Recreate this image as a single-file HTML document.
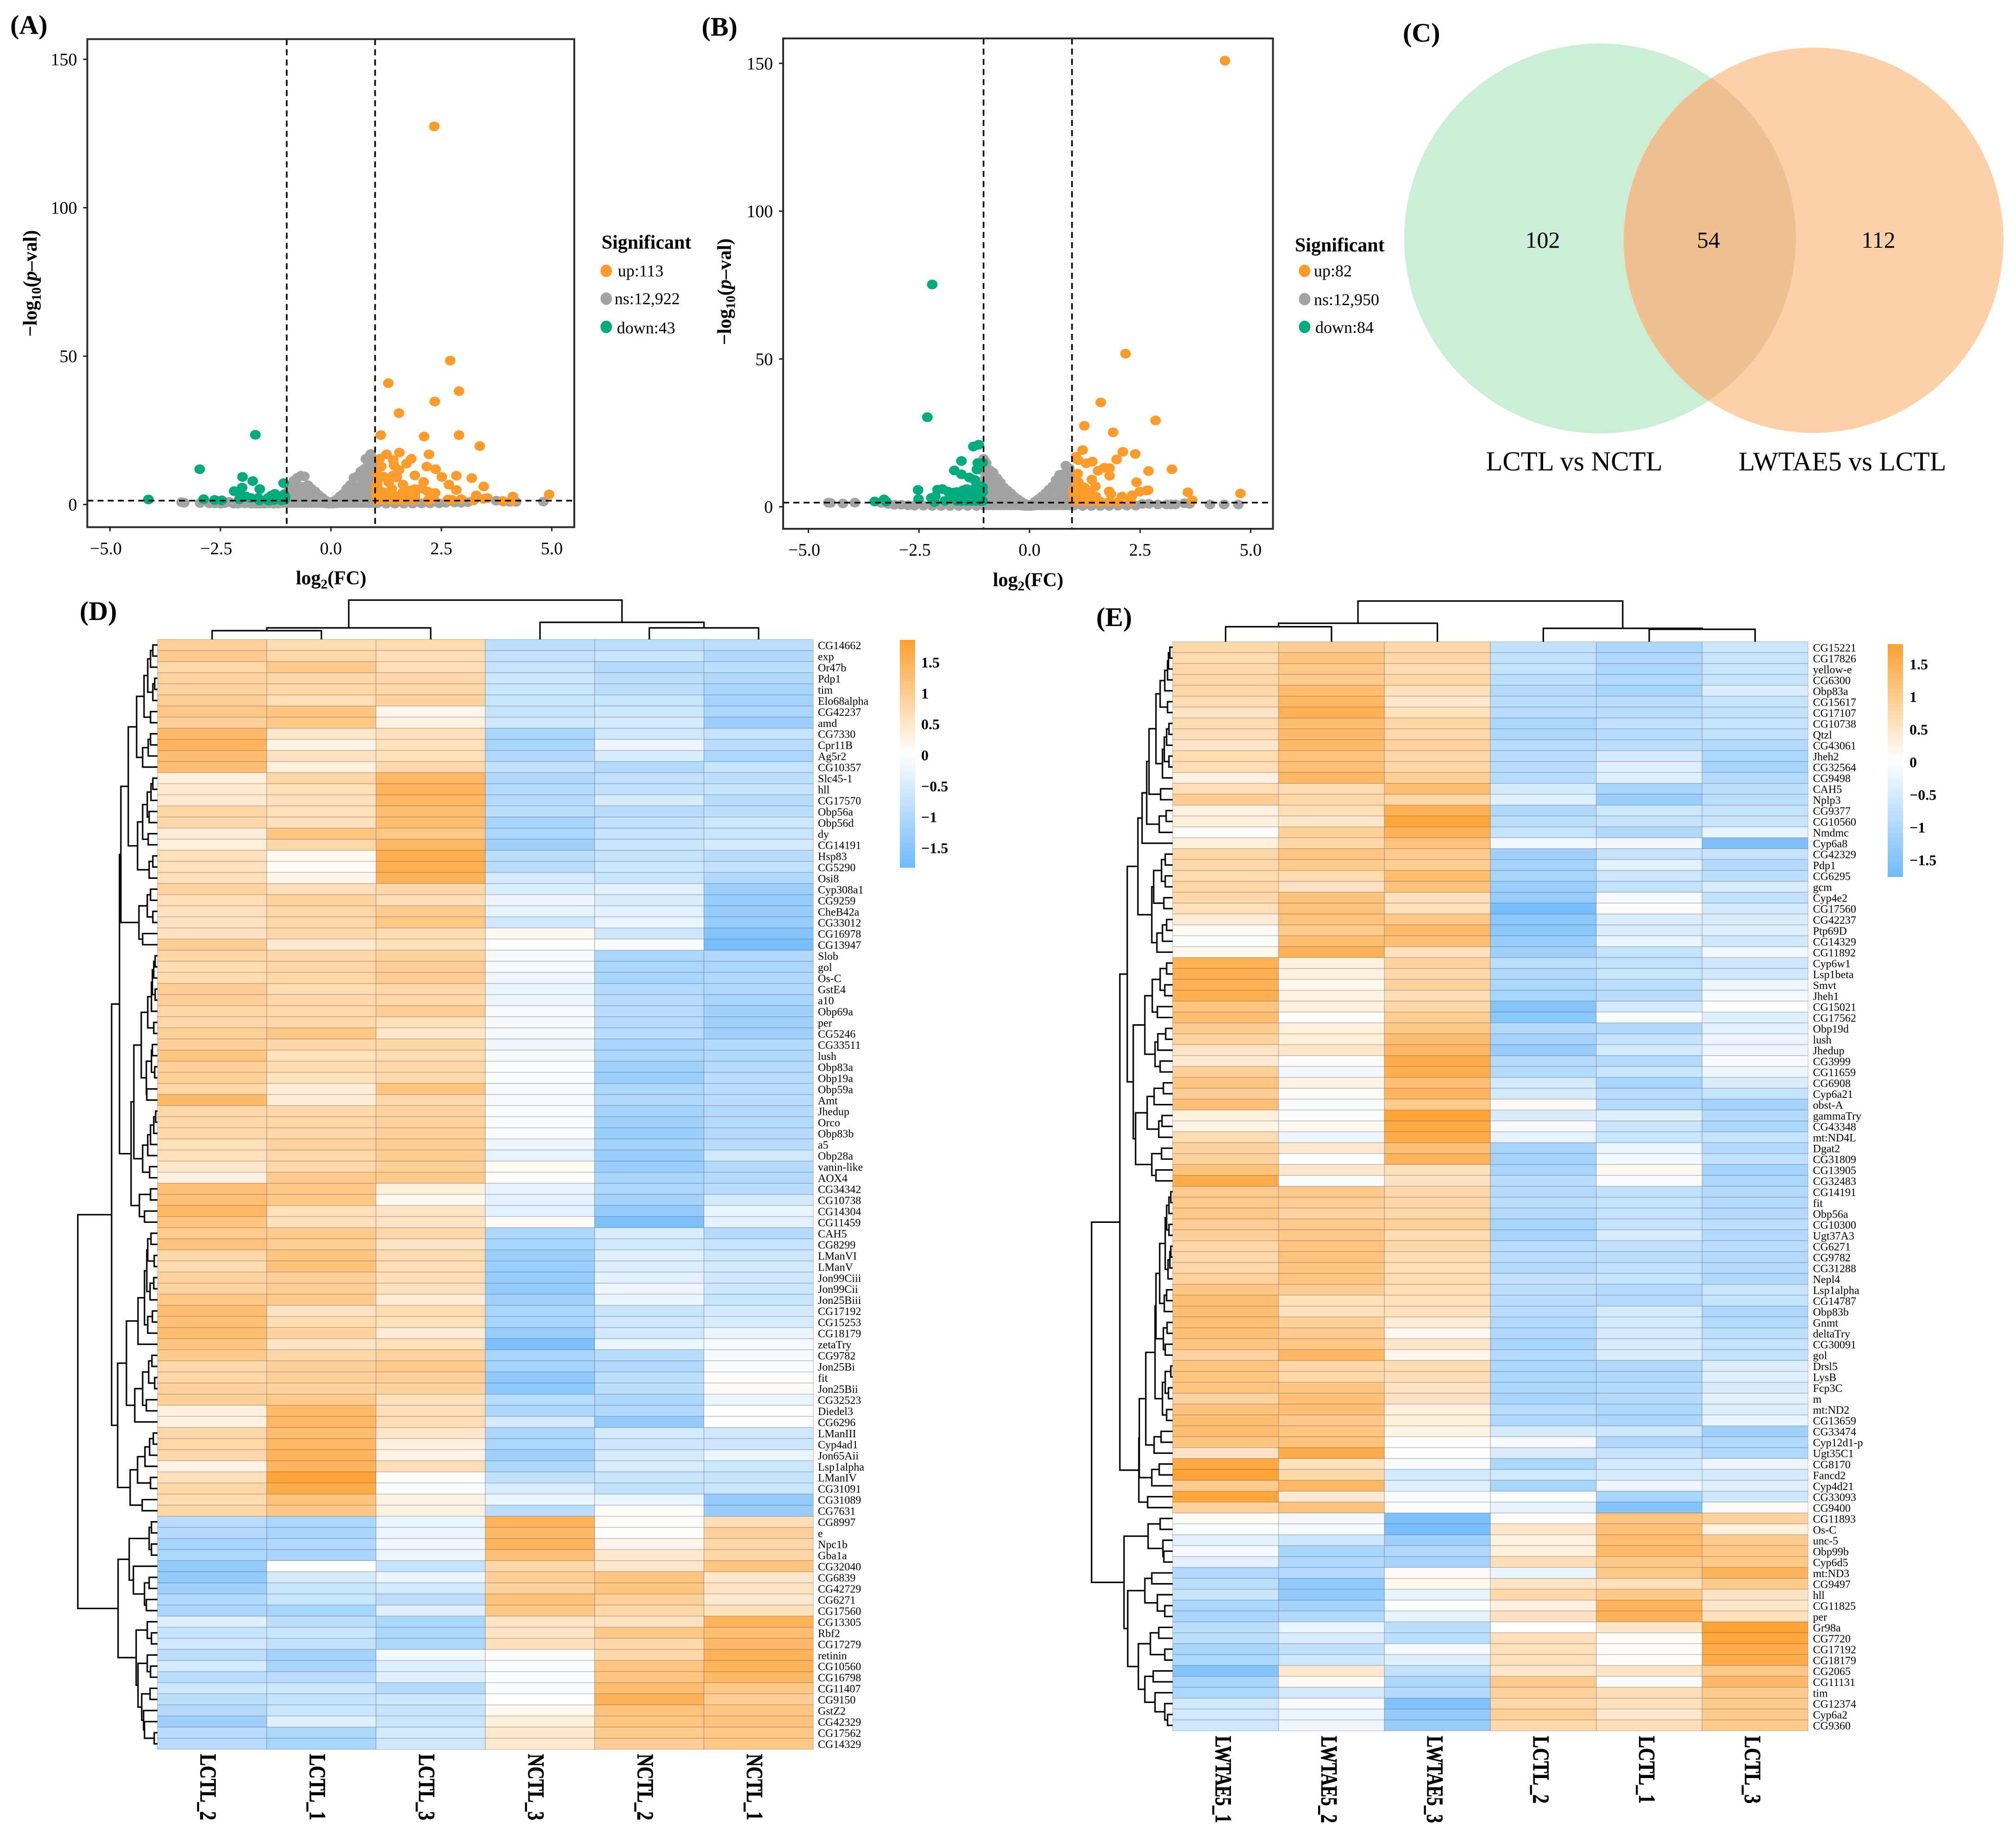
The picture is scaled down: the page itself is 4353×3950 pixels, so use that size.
<!DOCTYPE html>
<html lang="en">
<head>
<meta charset="utf-8">
<title>Volcano plots, Venn diagram and heatmaps</title>
<style>
html,body{margin:0;padding:0;background:#fff;}
svg{display:block;font-family:"Liberation Serif",serif;}
</style>
</head>
<body>
<svg id="figure" xmlns="http://www.w3.org/2000/svg" width="4353" height="3950" viewBox="0 0 4353 3950">
<defs><clipPath id="venn-left-clip"><ellipse cx="3455" cy="515" rx="423" ry="421"/></clipPath></defs>
<rect width="4353" height="3950" fill="#fff"/>
<text x="22" y="73" font-size="58" font-weight="bold">(A)</text>
<text x="1515" y="77" font-size="58" font-weight="bold">(B)</text>
<text x="3029" y="90" font-size="58" font-weight="bold">(C)</text>
<text x="172" y="1339" font-size="58" font-weight="bold">(D)</text>
<text x="2367" y="1352" font-size="58" font-weight="bold">(E)</text>

<g>
<text x="1299" y="537" font-size="42" font-weight="bold">Significant</text>
<ellipse cx="1309" cy="585" rx="12.5" ry="13.5" fill="#FF9B2A"/>
<text x="1334" y="597" font-size="36">up:113</text>
<ellipse cx="1309" cy="645" rx="12.5" ry="13.5" fill="#A3A3A3"/>
<text x="1327" y="657" font-size="36">ns:12,922</text>
<ellipse cx="1309" cy="706" rx="12.5" ry="13.5" fill="#00AB7E"/>
<text x="1332" y="720" font-size="36">down:43</text>
</g>
<g>
<text x="2796" y="543" font-size="42" font-weight="bold">Significant</text>
<ellipse cx="2817" cy="585" rx="12.5" ry="13.5" fill="#FF9B2A"/>
<text x="2837" y="597" font-size="36">up:82</text>
<ellipse cx="2817" cy="646" rx="12.5" ry="13.5" fill="#A3A3A3"/>
<text x="2837" y="659" font-size="36">ns:12,950</text>
<ellipse cx="2817" cy="706" rx="12.5" ry="13.5" fill="#00AB7E"/>
<text x="2840" y="719" font-size="36">down:84</text>
</g>

<g>
<ellipse cx="3455" cy="515" rx="423" ry="421" fill="#CBEFD6"/>
<ellipse cx="3916" cy="519" rx="410" ry="416" fill="#FDD1A8"/>
<ellipse cx="3916" cy="519" rx="410" ry="416" fill="#F0C090" clip-path="url(#venn-left-clip)"/>
<text x="3331" y="535" font-size="50" text-anchor="middle">102</text>
<text x="3689" y="535" font-size="50" text-anchor="middle">54</text>
<text x="4056" y="535" font-size="50" text-anchor="middle">112</text>
<text x="3399" y="1016" font-size="59" text-anchor="middle">LCTL vs NCTL</text>
<text x="3978" y="1016" font-size="58" text-anchor="middle">LWTAE5 vs LCTL</text>
</g>
</svg>

<script>
/* ---------- shared axis values ---------- */
const xTickValues = [-5, -2.5, 0, 2.5, 5];
const xTickLabels = ['\u22125.0', '\u22122.5', '0.0', '2.5', '5.0'];
const yTickValues = [0, 50, 100, 150];
const yTickLabels = ['0', '50', '100', '150'];

/* ---------- volcano A data: [log2FC, -log10 p] ---------- */
const aThresholdX = [-1, 1];
const aThresholdY = [1.3];
const aNs = [
[-3.38,.8],[-3.32,.6],[-2.96,.5],[-2.75,.4],[-2.62,.4],[-2.5,.3],[-2.4,.5],[-2.3,.9],[-2.2,.3],[-2.1,.3],[-1.95,.4],[-1.8,.3],[-1.7,.3],[-1.6,.3],[-1.5,.3],[-1.4,.4],[-1.3,.3],[-1.2,.3],[-1.1,.5],
[-1,.5],[-1,2],[-1,4],[-.92,.5],[-.92,3],[-.92,6],[-.84,.5],[-.84,3],[-.84,6],[-.84,8],[-.76,.5],[-.76,3],[-.76,6],[-.76,9],[-.68,.5],[-.68,3],[-.68,6],[-.68,9.7],[-.6,.5],[-.6,3],[-.6,6],[-.6,9.5],[-.52,.5],[-.52,3],[-.52,6.5],[-.44,.5],[-.44,2.5],[-.44,5.3],[-.36,.5],[-.36,2.5],[-.36,4.4],[-.28,.5],[-.28,3.2],[-.2,.5],[-.2,2.3],[-.12,.4],[-.12,1.3],[-.04,.3],
[.04,.3],[.04,1],[.12,.4],[.12,1.6],[.2,.5],[.2,2.7],[.28,.5],[.28,3.6],[.36,.5],[.36,3],[.36,5.3],[.44,.5],[.44,3],[.44,6.6],[.52,.5],[.52,3],[.52,6],[.52,9],[.6,.5],[.6,3],[.6,6],[.6,9.5],[.68,.5],[.68,3],[.68,6],[.68,9],[.68,11.2],[.76,.5],[.76,3],[.76,6],[.76,9],[.76,12],[.79,15.4],[.84,.5],[.84,3],[.84,6],[.84,9],[.84,12],[.84,14.5],[.9,.5],[.9,3],[.9,6],[.9,9],[.9,12],[.9,15],[.9,17],[.96,.5],[.96,3],[.96,6],[.96,9],[.96,13],
[1.05,.4],[1.25,.3],[1.45,.3],[1.65,.3],[1.85,.3],[2.05,.4],[2.25,.4],[2.45,.4],[2.6,.6],[2.8,.7],[2.95,.6],[3.1,.8],[3.74,1.3],[3.9,1],[4.05,.9],[4.19,.9],[4.81,1]
];
const aUp = [
[2.34,127.4],[2.7,48.5],[1.3,40.9],[2.9,38.2],[2.35,34.7],[1.54,30.8],[1.13,23.4],[2.11,22.9],[2.9,23.4],[3.37,19.7],[1.55,17.5],[1.26,16.9],[2.22,16.9],[1.1,15.4],[1.41,15],[1.82,15.4],[1.43,13.2],[1.71,13.8],[1.14,12.8],[2.17,12.8],[2.37,11.9],[1.54,11.6],[1.05,10.2],[1.19,9.4],[1.41,9.8],[1.49,9.2],[1.9,9.8],[2.51,9.3],[2.84,9.7],[3.19,8.9],[2.1,7.6],[1.31,7.5],[1.63,6.7],[2.67,6.7],[3.46,6.1],[1.05,7],[1.38,5.3],[2.05,5.4],[1.9,5.2],[1.79,4.7],[1.63,4.1],[2.19,4.4],[2.84,4.9],[2.36,3.9],[3.29,3.1],[4.94,3.4],[4.12,2.7],[3.54,2.2],[3.46,1.9],[2.95,1.8],[2.65,1.7],[2.75,1.55],[2.2,1.4],[2.33,1.9],[3.89,1.2],[4.12,1.3],[3.23,1.4],
[1.03,1.6],[1.03,3],[1.03,4.5],[1.03,6],[1.12,1.6],[1.12,3],[1.12,4.5],[1.22,1.6],[1.22,3],[1.22,4],[1.32,1.6],[1.32,3],[1.32,4.2],[1.42,1.6],[1.42,3],[1.52,1.6],[1.52,2.8],[1.62,1.5],[1.62,3],[1.72,1.6],[1.72,3],[1.82,1.6],[1.82,2.8],[1.82,3.6],[1.9,1.5],[1.9,2.7],[1.9,4]
];
const aDown = [
[-1.71,23.5],[-2.97,11.9],[-2,9.3],[-1.77,7.9],[-1.07,7.2],[-2.01,5.7],[-1.61,5.2],[-2.19,4.5],[-4.13,1.7],[-2.88,1.8],[-2.63,1.55],[-2.47,1.4],[-2.07,1.8],[-1.92,2.7],[-2.02,2.8],[-1.81,2.2],[-1.64,2.2],[-1.62,1.4],
[-1.42,2.2],[-1.35,3],[-1.27,3.6],[-1.16,2.2],[-1.06,3.4],[-1.41,1.3],[-1.25,1.8],[-1.12,1.4],[-1.04,2.5],[-1.05,1.6],[-1.2,2.6],[-1.3,1.5]
];

/* ---------- volcano B data ---------- */
const bThresholdX = [-1.04, 0.96];
const bThresholdY = [1.4];
const bNs = [
[-4.55,1.4],[-4.5,1.3],[-4.22,1.1],[-3.95,1.4],[-3.35,1.3],[-3.2,1],[-3.05,.7],[-2.9,.7],[-2.75,.5],[-2.6,.4],[-2.4,.4],[-2.2,.3],[-2,.3],[-1.8,.3],[-1.6,.3],[-1.4,.3],[-1.2,.3],
[-1.04,.5],[-1.04,3],[-1.04,6],[-1.04,9],[-1.04,12],[-1.04,15],[-1.04,16.2],[-.98,.5],[-.98,3],[-.98,6],[-.98,9],[-.98,12],[-.98,14.8],[-.9,.5],[-.9,3],[-.9,6],[-.9,9],[-.9,12.4],[-.82,.5],[-.82,3],[-.82,6],[-.82,9],[-.82,11.5],[-.74,.5],[-.74,3],[-.74,6],[-.74,9.7],[-.66,.5],[-.66,3],[-.66,6],[-.66,8.2],[-.58,.5],[-.58,3],[-.58,6.5],[-.5,.5],[-.5,3],[-.5,5.5],[-.42,.5],[-.42,2.5],[-.42,4.5],[-.34,.5],[-.34,3.3],[-.26,.5],[-.26,2.5],[-.18,.4],[-.18,1.7],[-.1,.3],[-.1,1],[-.03,.3],
[.04,.3],[.04,.8],[.12,.4],[.12,1.7],[.2,.5],[.2,2.6],[.28,.5],[.28,3.5],[.36,.5],[.36,2.8],[.36,4.5],[.44,.5],[.44,3],[.44,5.8],[.52,.5],[.52,3],[.52,6.9],[.6,.5],[.6,3],[.6,6],[.6,9],[.68,.5],[.68,3],[.68,6],[.68,9],[.68,10.8],[.76,.5],[.76,3],[.76,6],[.76,9],[.76,11],[.82,.5],[.82,3],[.82,6],[.82,9],[.82,11.5],[.82,13.9],[.9,.5],[.9,3],[.9,6],[.9,9],[.9,10],[.9,13],
[1,.4],[1.2,.3],[1.4,.3],[1.6,.3],[1.8,.3],[2,.4],[2.2,.4],[2.4,.4],[2.55,1],[2.7,1],[2.9,.8],[3.1,.8],[3.2,.8],[3.3,.8],[3.5,1.2],[3.62,1],[4.08,.8],[4.4,.8],[4.72,.8]
];
const bUp = [
[4.42,150.9],[2.17,51.8],[1.61,35.3],[2.85,29.2],[1.24,27.4],[1.89,25.2],[1.2,19.2],[2.11,18.6],[2.39,17.9],[1.97,16],[1.05,16.9],[1.1,15.8],[1.42,15.3],[1.28,14.7],[1.69,13.2],[1.81,13.1],[3.22,12.7],[1.55,12.2],[2.69,12.1],[1.09,11.2],[1.81,10.5],[1.41,9.2],[2.42,8.3],[1.1,8.4],[1.49,6.9],[2.65,5.5],[2.68,5.6],[2.49,5.1],[3.58,4.9],[4.77,4.5],[1.8,5.2],[1.84,4.3],[2.32,3.9],[2.09,3.5],[3.68,2.2],[2.29,1.9],
[1,2],[1,4],[1,6],[1.08,2],[1.08,4],[1.08,6],[1.16,2],[1.16,4],[1.16,7],[1.24,2],[1.24,4],[1.24,6.5],[1.32,2],[1.32,4],[1.32,5.5],[1.4,2],[1.4,4],[1.5,2],[1.5,3.5],[1.6,1.7],[1.8,1.7],[2,1.6]
];
const bDown = [
[-2.2,75.2],[-2.31,30.3],[-1.15,21],[-1.27,20.4],[-1.54,15.5],[-1.17,14.8],[-1.06,14.9],[-1.7,12.3],[-1.54,11],[-1.19,12.6],[-1.36,9.9],[-1.24,9.1],[-2.52,5.7],[-2.51,2.6],[-2.08,5.8],[-1.97,6],[-2.22,3],[-2.13,3.5],[-1.84,5.1],[-1.72,4.8],[-1.76,3.3],[-3.5,1.8],[-3.29,2.5],[-3.24,1.8],[-2.15,1.6],[-1.91,2],
[-1.64,2],[-1.64,5],[-1.55,2],[-1.55,4],[-1.5,5.6],[-1.42,2],[-1.42,4],[-1.42,6],[-1.32,2],[-1.32,4],[-1.32,5.5],[-1.22,2],[-1.22,4],[-1.22,6.5],[-1.12,2],[-1.12,4],[-1.12,7],[-1.06,2],[-1.06,5],[-1.06,6.5]
];

/* ---------- heatmap D data ---------- */
const dSamples = ['LCTL_2','LCTL_1','LCTL_3','NCTL_3','NCTL_2','NCTL_1'];
const dGenes = ['CG14662','exp','Or47b','Pdp1','tim','Elo68alpha','CG42237','amd','CG7330','Cpr11B','Ag5r2','CG10357','Slc45-1','hll','CG17570','Obp56a','Obp56d','dy','CG14191','Hsp83','CG5290','Osi8','Cyp308a1','CG9259','CheB42a','CG33012','CG16978','CG13947','Slob','gol','Os-C','GstE4','a10','Obp69a','per','CG5246','CG33511','lush','Obp83a','Obp19a','Obp59a','Amt','Jhedup','Orco','Obp83b','a5','Obp28a','vanin-like','AOX4','CG34342','CG10738','CG14304','CG11459','CAH5','CG8299','LManVI','LManV','Jon99Ciii','Jon99Cii','Jon25Biii','CG17192','CG15253','CG18179','zetaTry','CG9782','Jon25Bi','fit','Jon25Bii','CG32523','Diedel3','CG6296','LManIII','Cyp4ad1','Jon65Aii','Lsp1alpha','LManIV','CG31091','CG31089','CG7631','CG8997','e','Npc1b','Gba1a','CG32040','CG6839','CG42729','CG6271','CG17560','CG13305','Rbf2','CG17279','retinin','CG10560','CG16798','CG11407','CG9150','GstZ2','CG42329','CG17562','CG14329'];
const dValues = [
[1,.8,.8,-.95,-.95,-.95],[1.1,.85,.75,-.9,-.8,-1.1],[.85,1.1,.75,-.85,-1.05,-.95],[.95,.9,.85,-.75,-.95,-1.1],[.95,.9,.9,-.8,-.95,-1.2],[1.05,.75,.95,-.8,-.8,-1.25],[1.15,1.2,.25,-.85,-.75,-1.15],[1,1.15,.35,-.7,-.65,-1.35],[1.4,.55,.7,-1.2,-.7,-.85],[1.5,.3,.7,-1.2,-.3,-1],
[1.35,.65,.7,-1.1,-.6,-1.15],[1.35,.4,.85,-.9,-1.05,-.85],[.4,.9,1.45,-1.1,-.9,-.95],[.5,.7,1.5,-1.05,-.9,-.85],[.5,.7,1.45,-1.05,-.6,-1],[.9,.7,1.35,-.95,-1,-.95],[.85,.7,1.35,-1.2,-.9,-.75],[.45,1.2,1.15,-1.15,-.85,-.8],[.4,.9,1.45,-1.3,-.8,-.65],[.7,.2,1.6,-.95,-.85,-1],
[.7,.1,1.6,-1,-.75,-.9],[.7,.25,1.55,-.65,-.8,-1.1],[.95,.75,.85,-.55,-.45,-1.35],[.75,.95,.75,-.3,-.6,-1.4],[.7,.9,1.1,-.4,-.45,-1.4],[.65,.85,1.15,-.7,-.35,-1.4],[.65,.85,.8,.2,-.75,-1.6],[1.05,.5,.7,0,-.1,-1.75],[.9,.9,.95,-.2,-1.15,-1.1],[.8,.9,1.05,-.2,-1.15,-1.15],
[.8,.9,1.05,-.3,-1.2,-1.1],[1.05,.8,.85,-.35,-1.05,-1.1],[1,.85,.85,-.35,-1,-1.2],[.9,.85,1.05,-.2,-1,-1.3],[.9,.85,.7,-.15,-1.05,-1.3],[1,1.15,.55,-.2,-1,-1.3],[1,.9,.85,-.3,-1.2,-1.05],[1.2,.7,.8,-.2,-1.15,-1.1],[1,.8,.85,-.1,-1.3,-1.05],[1,.7,.85,-.1,-1.35,-1],
[.9,.45,1.2,-.2,-1.15,-1],[1.4,.45,.85,-.2,-1.1,-1],[.85,.85,.95,-.1,-1.25,-1.05],[.85,.9,.95,-.1,-1.3,-1.05],[.85,.9,1,-.1,-1.35,-1.05],[.7,.95,1.05,-.3,-1.25,-1],[.7,.9,1.05,-.4,-1.35,-.7],[.55,.85,1,.15,-1.35,-1.05],[.35,1.1,1.1,.05,-1.2,-1.05],[1.3,1.15,.4,-.4,-1.15,-1],
[1.3,1.15,.2,-.45,-1.25,-.65],[1.45,.7,.6,-.45,-1.45,-.35],[1.2,.7,.6,.1,-1.7,-.45],[1.1,1.1,.85,-1.15,-.6,-1.05],[1.25,1.05,.6,-1.2,-.7,-.85],[.85,1.2,.8,-1.35,-.5,-.75],[.8,1.25,.75,-1.35,-.55,-.65],[.95,1,.75,-1.4,-.45,-.7],[.95,1.05,.7,-1.45,-.3,-.75],[1.15,1.1,.45,-1.3,-.35,-.8],
[1.35,.65,.8,-1.2,-.8,-.65],[1.3,.8,.7,-1.2,-.7,-.6],[1.35,.95,.45,-1.4,-.7,-.35],[1.2,.6,.7,-1.7,-.35,-.2],[1.1,.85,.95,-1.2,-1,-.15],[.85,1,1.1,-1.25,-1.1,-.1],[.9,1,1,-1.5,-.95,.05],[.95,.95,.95,-1.5,-.95,.1],[1,1.1,.7,-1,-1.15,-.35],[.35,1.4,.75,-1.15,-1.1,0],
[.35,1.45,.75,-.65,-1.45,-.05],[.85,1.35,.55,-1.15,-.65,-.7],[.9,1.45,.35,-1.15,-.75,-.75],[.85,1.5,.3,-1.3,-.65,-.35],[.3,1.5,.75,-1.15,-.6,-.75],[.7,1.8,.03,-.9,-.8,-.85],[.85,1.65,-.1,-.6,-.9,-.8],[.8,1.25,.3,-.35,-.35,-1.45],[.9,1.15,.35,-.95,.05,-1.4],[-1,-1.15,-.35,1.5,.1,.75],
[-1.05,-1.2,-.35,1.4,.05,1],[-1.2,-1.1,-.25,1.5,.25,.85],[-1.15,-1.2,-.3,1.3,.5,.9],[-1.45,0,-.85,.9,.55,1.2],[-1.45,-.65,-.35,1,1.2,.55],[-1.3,-.8,-.65,.95,1.2,.6],[-1.1,-.8,-.95,1.25,1,.5],[-1.15,-1.2,-.5,1.15,.9,.7],[-.5,-.95,-1.15,.6,.65,1.5],[-.85,-.8,-1.15,.6,1.15,1.35],
[-.7,-.9,-1.15,.7,.85,1.4],[-.95,-1.25,-.25,.1,.85,1.55],[-.65,-1.2,-.5,-.1,1.2,1.5],[-1,-1,-.5,-.1,1.2,1.45],[-.75,-.75,-1.05,-.1,1.35,1.15],[-.95,-.85,-.75,0,1.55,1.05],[-1.05,-.8,-.85,.2,1.25,1.2],[-1.3,-.5,-.8,.4,1.2,1.25],[-1,-1.15,-.65,.5,1.1,1.15],[-1,-1.2,-.7,.5,1.05,1.15]
];
/* dendrogram merges: [height, leftChild, rightChild]; 1 = a single leaf */
const dRowTree = [172,
 [99,
  [82,
   [79,
    [63,
     [45,
      [29,[21,[15,[10,1,1],1],[10,[6,1,1],1]],[15,1,1]],
      [32,[20,[15,1,1],1],1]],
     [43,[32,[22,[14,[10,1,1],1],[18,1,1]],[20,1,1]],[18,[10,1,1],1]]],
    [40,[22,[15,1,1],[10,1,1]],[32,1,1]]],
   [57,
    [51,
     [35,[21,[13,[11,[8,[5,1,1],1],[5,1,1]],1],[8,1,1]],[24,[13,[11,1,1],[6,1,1]],[23,1,1]]],
     [32,[21,[15,[8,[4,1,1],1],1],1],[17,1,1]]],
    [39,[15,1,1],[28,1,1]]]],
  [86,
   [67,
    [42,[28,[23,[21,[14,1,1],[7,1,1]],[16,[8,1,1],1]],[21,[11,1,1],1]],1],
    [49,[32,[19,[12,1,1],[6,1,1]],[24,1,1]],1]],
   [59,[43,[27,[17,[9,1,1],1],1],[15,1,1]],[33,1,1]]]],
 [85,
  [61,[18,[13,1,1],[13,1,1]],[52,1,[28,[18,1,1],[24,1,1]]]],
  [46,[22,1,[13,1,1]],[42,[22,1,[15,1,1]],[34,[16,1,1],[30,1,[28,1,[7,1,1]]]]]]]];
const dColTree = [85,[25,[19,1,1],1],[37,1,[25,1,1]]];
const dLegendTicks = [1.5,1,0.5,0,-0.5,-1,-1.5];
const dLegendLabels = ['1.5','1','0.5','0','\u22120.5','\u22121','\u22121.5'];

/* ---------- heatmap E data ---------- */
const eSamples = ['LWTAE5_1','LWTAE5_2','LWTAE5_3','LCTL_2','LCTL_1','LCTL_3'];
const eGenes = ['CG15221','CG17826','yellow-e','CG6300','Obp83a','CG15617','CG17107','CG10738','Qtzl','CG43061','Jheh2','CG32564','CG9498','CAH5','Nplp3','CG9377','CG10560','Nmdmc','Cyp6a8','CG42329','Pdp1','CG6295','gcm','Cyp4e2','CG17560','CG42237','Ptp69D','CG14329','CG11892','Cyp6w1','Lsp1beta','Smvt','Jheh1','CG15021','CG17562','Obp19d','lush','Jhedup','CG3999','CG11659','CG6908','Cyp6a21','obst-A','gammaTry','CG43348','mt:ND4L','Dgat2','CG31809','CG13905','CG32483','CG14191','fit','Obp56a','CG10300','Ugt37A3','CG6271','CG9782','CG31288','Nepl4','Lsp1alpha','CG14787','Obp83b','Gnmt','deltaTry','CG30091','gol','Drsl5','LysB','Fcp3C','m','mt:ND2','CG13659','CG33474','Cyp12d1-p','Ugt35C1','CG8170','Fancd2','Cyp4d21','CG33093','CG9400','CG11893','Os-C','unc-5','Obp99b','Cyp6d5','mt:ND3','CG9497','hll','CG11825','per','Gr98a','CG7720','CG17192','CG18179','CG2065','CG11131','tim','CG12374','Cyp6a2','CG9360'];
const eValues = [
[.85,1.05,.85,-.9,-1.15,-.75],[.8,1.2,.85,-.9,-1.1,-.8],[.85,1.15,.8,-.85,-1.15,-.8],[.9,1.1,.85,-.95,-1.1,-.8],[.85,1.35,.7,-1.05,-1.2,-.55],[.8,1.45,.55,-1,-1,-.85],[.6,1.55,.7,-1,-1,-.9],[.8,1.35,.9,-1.15,-.9,-.85],[.75,1.4,.85,-1.15,-1,-.9],[.55,1.4,.95,-1,-.95,-1.05],
[.8,1.25,.9,-1,-.65,-1.15],[.75,1.3,.9,-1,-.5,-1.2],[.35,1.45,1,-1,-.5,-1.05],[.75,.8,1.35,-.65,-1.2,-.95],[1.05,.85,.9,-.5,-1.35,-.95],[.35,.75,1.55,-1.1,-.75,-.85],[.4,.55,1.75,-.95,-.85,-.8],[.05,1,1.55,-.85,-1.1,-.4],[.4,.9,1.25,-.25,-.25,-1.7],[.9,1.2,1.1,-1.3,-.85,-.85],
[.85,1.1,1.05,-1.25,-.45,-1.05],[.8,.8,1.35,-1.2,-.75,-.95],[.9,.65,1.25,-1.35,-.85,-.6],[.85,1.25,.7,-1.4,-.2,-.9],[.7,1.25,.7,-1.75,-.05,-.65],[.45,1.25,1.15,-1.55,-.55,-.6],[.15,1.1,1.4,-1.55,-.6,-.5],[-.05,1.35,1.3,-1.4,-.35,-.7],[.2,1.55,.7,-1.3,-.85,-.25],[1.55,.35,.95,-.95,-.9,-.75],
[1.6,.35,.85,-1.1,-.8,-.7],[1.55,.2,.95,-1.15,-.95,-.3],[1.6,.3,.75,-1.2,-1,-.2],[1.2,.4,.9,-1.6,-.65,0],[1.35,.03,1.05,-1.55,-.1,-.5],[1.1,.4,1.15,-1.05,-1.1,-.45],[.95,.4,1.35,-1.25,-.85,-.3],[.6,.55,1.45,-1.4,-.65,-.3],[.5,.1,1.65,-1.05,-1.05,-.15],[1,-.25,1.6,-1.05,-.8,-.3],
[1.2,.3,1.3,-.65,-1.2,-.6],[1.05,.1,1.5,-.65,-1,-.85],[1.3,-.1,1.1,.1,-1.05,-1.25],[.4,.05,1.8,-.6,-.5,-1.05],[.3,.2,1.7,-.15,-.8,-1.15],[.8,-.3,1.65,-.4,-.8,-.85],[.95,.5,1.3,-1.2,-.35,-1.05],[.95,0,1.5,-1.25,-.25,-.9],[1.25,.55,.7,-1.2,.2,-1.25],[1.65,-.1,.65,-1,-.1,-1.15],
[1.1,1.1,.85,-1.05,-.9,-1.05],[1.1,1.05,.9,-.95,-.85,-1.05],[1.15,.95,.9,-1.05,-.85,-1.05],[1.05,1.1,1,-1.2,-.85,-.95],[1,1.15,.8,-1.2,-.6,-1.05],[.9,1.2,.85,-1,-.9,-1],[.85,1.25,.8,-1,-.95,-1.05],[.9,1.2,.75,-1.05,-.9,-1.05],[.95,1.2,.8,-.9,-.85,-1.1],[1.2,1.05,.75,-.95,-1.05,-.8],
[1.35,.7,.7,-1,-1.05,-.85],[1.35,.7,.7,-1,-.65,-1.15],[1.3,1,.45,-1.1,-.65,-1.05],[1.3,1.1,.2,-1.1,-.65,-.95],[1.2,1.15,.55,-1.2,-.6,-.85],[.95,1.45,.25,-1.05,-.6,-.9],[1.2,.9,.8,-1.15,-1.1,-.55],[1.2,.85,.75,-1.15,-1.1,-.5],[1.2,1.2,.6,-1.15,-1.05,-.6],[.95,1.3,.65,-1.2,-1.05,-.45],
[1.25,1.3,.4,-1,-1.15,-.55],[1.35,1.15,.4,-1.1,-1.15,-.35],[1.35,1.2,.3,-.65,-.75,-1.3],[1.2,1.25,.05,-.2,-1.1,-1.1],[.65,1.65,.03,-.6,-.85,-1.1],[1.7,.7,-.15,-1.15,-.65,-.3],[1.8,.85,-.65,-.7,-.65,-.65],[1.1,1.45,-.5,-1.2,-.3,-.5],[1.75,.5,-.1,0,-1.2,-.75],[.95,1.25,-.05,-.4,-1.6,.1],
[.1,-.25,-1.7,.05,1.2,.95],[-.1,-.15,-1.75,.55,1.3,.4],[-.45,-.75,-1.3,.35,1.35,1.1],[-.2,-1.2,-1.1,.4,1.4,1.15],[-.45,-1.1,-1.25,.75,1.15,1.15],[-1.1,-1.05,.1,-.35,1.15,1.5],[-.95,-1.5,.2,.6,.7,1.1],[-.8,-1.45,-.4,.85,1.15,.65],[-1.15,-1.25,0,.35,1.5,.55],[-1.2,-1.1,-.4,.65,1.55,.7],
[-.95,-.35,-.95,0,.55,1.8],[-.95,-.6,-.95,.7,.1,1.75],[-1.2,-.9,-.2,.7,.1,1.65],[-1.15,-.7,-.5,.7,.05,1.65],[-1.6,.5,-.9,.55,.6,1.15],[-1.2,.15,-1.15,1.1,-.1,1.4],[-1.15,-.65,-1.05,.95,.75,1.1],[-.7,-.1,-1.65,.85,.7,1.1],[-.7,-.35,-1.45,1,.5,1.1],[-.7,-.3,-1.4,.85,.75,1.1]
];
const eRowTree = [175,
 [114,
  [98,
   [75,
    [66,
     [56,
      [51,
       [36,
        [27,[17,[11,[9,[6,1,1],1],1],1],[11,1,1]],
        [22,[18,[13,[8,1,1],1],[8,1,1]],1]],
       [26,1,1]],
      [29,[14,1,1],1]],
     1],
    [45,[41,[24,[16,1,1],[16,1,1]],[19,1,1]],[34,[22,[13,1,1],1],1]]],
   [85,
    [60,[44,[27,[13,1,1],[17,1,1]],[33,1,1]],[38,[32,[15,1,1],1],[27,1,1]]],
    [80,[55,[40,[20,1,1],1],[30,[23,1,1],1]],[45,[24,1,1],[36,1,1]]]]],
  [73,
   [72,
    [58,
     [38,
      [36,
       [28,[16,[13,[8,[4,1,1],1],[8,1,1]],[10,[6,[4,1,1],1],1]],[18,[13,1,1],1]],
       [20,[12,1,1],[16,1,1]]],
      [22,[16,[4,1,1],[9,1,1]],[13,1,1]]],
     [40,[25,1,1],1]],
    [45,[29,1,1],1]],
   [54,1,1]]],
 [105,
  [53,[27,1,1],[21,1,[19,1,1]]],
  [97,
   [60,[45,1,1],[33,1,[17,1,1]]],
   [74,[48,[30,1,1],[17,1,1]],[60,[42,1,1],[38,1,[17,1,[11,1,1]]]]]]]];
const eColTree = [88,[40,[32.5,1,1],1],[29,1,[27,1,1]]];
const eLegendTicks = [1.5,1,0.5,0,-0.5,-1,-1.5];
const eLegendLabels = ['1.5','1','0.5','0','\u22120.5','\u22121','\u22121.5'];

/* ---------- drawing helpers ---------- */
const NS = 'http://www.w3.org/2000/svg';
const figure = document.getElementById('figure');
function svgEl(parent, tag, attrs, text) {
  const el = document.createElementNS(NS, tag);
  for (const k in attrs) el.setAttribute(k, attrs[k]);
  if (text !== undefined) el.textContent = text;
  parent.appendChild(el);
  return el;
}

function drawVolcano(key, layout, ns, up, down, thrX, thrY) {
  const g = svgEl(figure, 'g', {});
  
  
  const sx = v => layout.x0 + v * layout.ux;
  const sy = v => layout.y0 - v * layout.uy;

  const dotGroups = [[ns, '#A3A3A3'], [up, '#FF9B2A'], [down, '#00AB7E']];
  dotGroups.forEach(function (group) {
    group[0].forEach(function (p) {
      const dot = svgEl(g, 'ellipse', {cx: sx(p[0]), cy: sy(p[1]), rx: 11.5, ry: 10.5, fill: group[1]});
      
      
    });
  });

  thrX.forEach(function (v) {
    const l = svgEl(g, 'line', {x1: sx(v), x2: sx(v), y1: layout.top, y2: layout.bottom, stroke: '#000', 'stroke-width': 3.5, 'stroke-dasharray': '13 9'});
    
    
  });
  thrY.forEach(function (v) {
    const l = svgEl(g, 'line', {x1: layout.left, x2: layout.right, y1: sy(v), y2: sy(v), stroke: '#000', 'stroke-width': 3.5, 'stroke-dasharray': '13 9'});
    
    
  });

  const box = svgEl(g, 'rect', {x: layout.left, y: layout.top, width: layout.right - layout.left, height: layout.bottom - layout.top, fill: 'none', stroke: '#2b2b2b', 'stroke-width': 4});
  
  

  xTickValues.forEach(function (v, i) {
    const t = svgEl(g, 'line', {x1: sx(v), x2: sx(v), y1: layout.bottom, y2: layout.bottom + 9, stroke: '#222', 'stroke-width': 3});
    
    
    const lab = svgEl(g, 'text', {x: sx(v) - (v < 0 ? 9 : 0), y: layout.xTickY, 'font-size': 38, 'text-anchor': 'middle'}, xTickLabels[i]);
    
    
  });
  yTickValues.forEach(function (v, i) {
    const t = svgEl(g, 'line', {x1: layout.left - 9, x2: layout.left, y1: sy(v), y2: sy(v), stroke: '#222', 'stroke-width': 3});
    
    
    const lab = svgEl(g, 'text', {x: layout.left - 22, y: sy(v) + 13, 'font-size': 38, 'text-anchor': 'end'}, yTickLabels[i]);
    
    
  });

  const xt = svgEl(g, 'text', {x: layout.xLabelX, y: layout.xLabelY, 'font-size': 42, 'font-weight': 'bold', 'text-anchor': 'middle'});
  
  
  svgEl(xt, 'tspan', {}, 'log');
  svgEl(xt, 'tspan', {dy: 9, 'font-size': 29}, '2');
  svgEl(xt, 'tspan', {dy: -9}, '(FC)');

  const yt = svgEl(g, 'text', {transform: 'translate(' + layout.yLabelX + ',' + layout.yLabelY + ') rotate(-90)', 'font-size': 42, 'font-weight': 'bold', 'text-anchor': 'middle'});
  
  
  svgEl(yt, 'tspan', {}, '\u2212log');
  svgEl(yt, 'tspan', {dy: 9, 'font-size': 29}, '10');
  svgEl(yt, 'tspan', {dy: -9}, '(');
  svgEl(yt, 'tspan', {'font-style': 'italic'}, 'p');
  svgEl(yt, 'tspan', {}, '\u2013val)');
}

drawVolcano('a', {left: 188.5, right: 1240, top: 84.5, bottom: 1138.5, x0: 714.5, ux: 95.4, y0: 1089.6, uy: 6.41, xTickY: 1197, xLabelX: 715, xLabelY: 1262, yLabelX: 79, yLabelY: 612}, aNs, aUp, aDown, aThresholdX, aThresholdY);
drawVolcano('b', {left: 1691, right: 2748.6, top: 83, bottom: 1142, x0: 2223, ux: 95.5, y0: 1094.5, uy: 6.385, xTickY: 1200, xLabelX: 2220, xLabelY: 1266, yLabelX: 1578, yLabelY: 630}, bNs, bUp, bDown, bThresholdX, bThresholdY);

function heatColor(v) {
  const s = Math.pow(Math.min(1, Math.abs(v) / 1.85), 1.15);
  const end = v >= 0 ? [255, 160, 48] : [112, 186, 252];
  return 'rgb(' + end.map(c => Math.round(255 + (c - 255) * s)).join(',') + ')';
}

function drawTree(g, node, toPx) {
  /* returns [leafCentre, height] after drawing; leaf counter advances left-to-right */
  let counter = 0;
  function walk(n) {
    if (n === 1) { counter += 1; return [counter - 0.5, 0]; }
    const a = walk(n[1]);
    const b = walk(n[2]);
    const path = svgEl(g, 'path', {
      d: 'M' + toPx(a[0], a[1]) + 'L' + toPx(a[0], n[0]) + 'L' + toPx(b[0], n[0]) + 'L' + toPx(b[0], b[1]),
      fill: 'none', stroke: '#000', 'stroke-width': 3.2
    });
    
    
    return [(a[0] + b[0]) / 2, n[0]];
  }
  walk(node);
}

function drawHeatmap(h, genes, samples, values, rowTree, colTree, legendTicks, legendLabels) {
  const g = svgEl(figure, 'g', {});
  
  
  const cw = (h.right - h.left) / samples.length;
  const rh = (h.bottom - h.top) / genes.length;

  values.forEach(function (row, r) {
    row.forEach(function (v, c) {
      const cell = svgEl(g, 'rect', {x: h.left + c * cw, y: h.top + r * rh, width: cw, height: rh, fill: heatColor(v), stroke: 'rgba(70,70,70,0.28)', 'stroke-width': 1.4});
      
      
    });
  });
  genes.forEach(function (name, r) {
    const t = svgEl(g, 'text', {x: h.labelX, y: h.top + (r + 0.5) * rh + 9, 'font-size': 24}, name);
    
    
  });
  samples.forEach(function (name, c) {
    const t = svgEl(g, 'text', {
      transform: 'translate(' + (h.left + (c + 0.5) * cw - h.sampleOffset) + ',' + h.sampleY + ') rotate(90)',
      'font-size': 50, 'font-weight': 'bold', stroke: '#000', 'stroke-width': 0.9,
      textLength: name.length > 6 ? h.longLen : h.shortLen, lengthAdjust: 'spacingAndGlyphs'
    }, name);
    
    
  });

  drawTree(g, rowTree, (leaf, d) => (h.left - d) + ',' + (h.top + leaf * rh));
  drawTree(g, colTree, (leaf, d) => (h.left + leaf * cw) + ',' + (h.top - d));

  /* colour key */
  const gradId = 'grad-' + h.id;
  const defs = svgEl(g, 'defs', {});
  const grad = svgEl(defs, 'linearGradient', {id: gradId, x1: 0, y1: 0, x2: 0, y2: 1});
  svgEl(grad, 'stop', {offset: '0%', 'stop-color': '#FFA030'});
  svgEl(grad, 'stop', {offset: '50%', 'stop-color': '#FFFFFF'});
  svgEl(grad, 'stop', {offset: '100%', 'stop-color': '#70BAFC'});
  const bar = svgEl(g, 'rect', {x: h.keyX, y: h.keyTop, width: h.keyW, height: h.keyBottom - h.keyTop, fill: 'url(#' + gradId + ')'});
  
  
  legendTicks.forEach(function (v, i) {
    const t = svgEl(g, 'text', {x: h.keyLabelX, y: h.keyZero - v * h.keyUnit + 11, 'font-size': 32, 'font-weight': 'bold'}, legendLabels[i]);
    
    
  });
}

drawHeatmap({id: 'd', left: 340, right: 1756, top: 1381, bottom: 3778, labelX: 1766, sampleOffset: 25, sampleY: 3788, shortLen: 143, longLen: 143, keyX: 1943, keyW: 33, keyTop: 1382, keyBottom: 1874, keyLabelX: 1989, keyZero: 1631, keyUnit: 133.6},
  dGenes, dSamples, dValues, dRowTree, dColTree, dLegendTicks, dLegendLabels);
drawHeatmap({id: 'e', left: 2532, right: 3904, top: 1386, bottom: 3738, labelX: 3914.5, sampleOffset: 21.5, sampleY: 3749, shortLen: 146, longLen: 188, keyX: 4076, keyW: 33, keyTop: 1391, keyBottom: 1894, keyLabelX: 4123, keyZero: 1646, keyUnit: 141},
  eGenes, eSamples, eValues, eRowTree, eColTree, eLegendTicks, eLegendLabels);
</script>
</body>
</html>
